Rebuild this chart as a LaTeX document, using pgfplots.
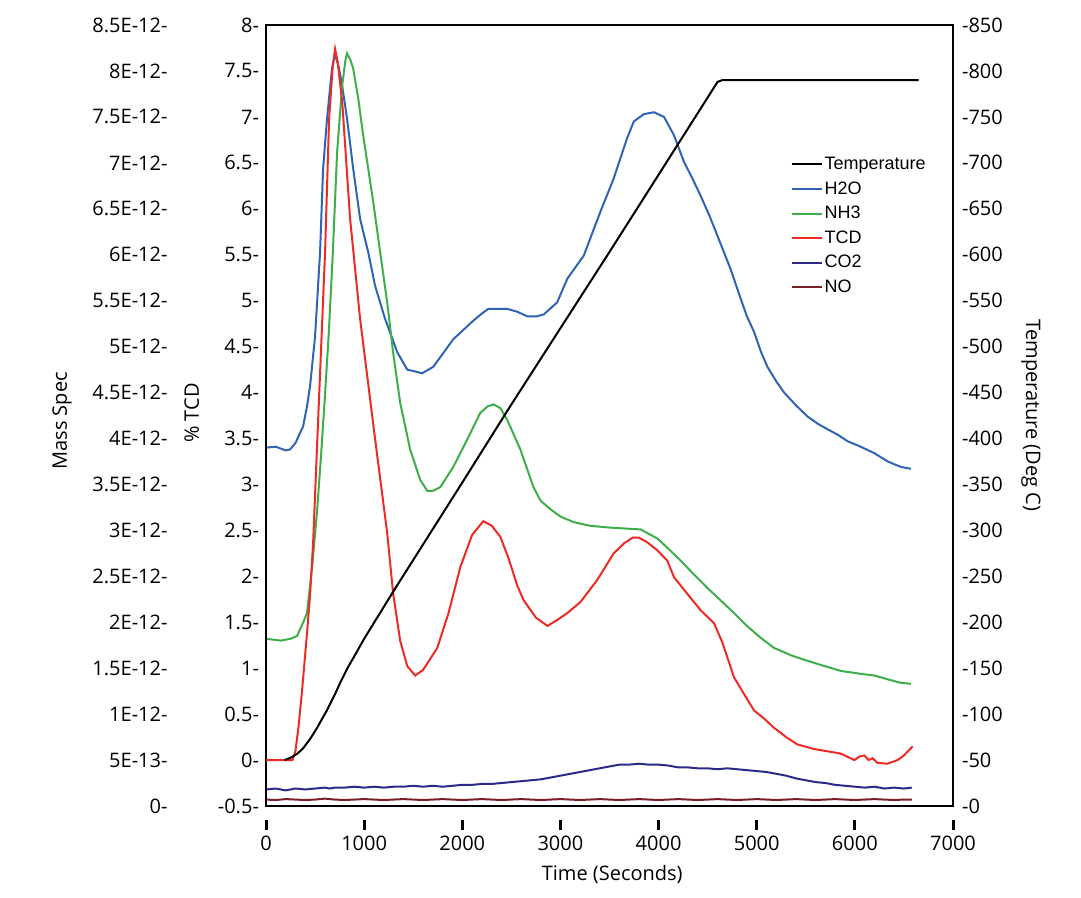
\documentclass[border=0pt]{standalone}
\usepackage{pgfplots}
\pgfplotsset{compat=1.18}
\usepackage{pgfplotstable}
\usepackage{fontspec}
\setmainfont{Open Sans}
\newfontfamily\legendfont{Liberation Sans}
\newcommand\tk[1]{\smash{\makebox[0pt]{\hspace{#1}\rule[10.5pt]{1.5pt}{5pt}}}}
\definecolor{h2oc}{RGB}{47,99,181}
\definecolor{nh3c}{RGB}{61,174,73}
\definecolor{tcdc}{RGB}{238,42,36}
\definecolor{co2c}{RGB}{43,42,138}
\definecolor{noc}{RGB}{122,31,40}

% TCD signal (% TCD)
\pgfplotstableread{
t tcd
0 0
270 0
300 0.10
330 0.35
367 0.75
418 1.38
449 1.80
480 2.36
535 3.80
602 5.53
643 6.98
680 7.55
704 7.74
730 7.60
776 7.17
857 5.89
959 4.80
1112 3.49
1235 2.47
1296 1.81
1367 1.30
1440 1.02
1520 0.92
1600 0.98
1745 1.22
1860 1.60
1980 2.10
2100 2.45
2214 2.60
2300 2.55
2388 2.43
2470 2.20
2560 1.90
2625 1.74
2750 1.55
2868 1.46
2960 1.52
3071 1.60
3204 1.72
3375 1.96
3543 2.25
3650 2.36
3735 2.42
3800 2.42
3885 2.37
3990 2.28
4089 2.17
4157 1.99
4300 1.80
4429 1.63
4565 1.49
4650 1.28
4769 0.90
4870 0.72
4973 0.54
5077 0.45
5177 0.35
5300 0.25
5415 0.17
5585 0.12
5750 0.09
5858 0.07
5994 0.00
6050 0.04
6096 0.05
6140 0.00
6180 0.02
6230 -0.03
6330 -0.04
6436 0.00
6500 0.05
6590 0.15
}\tcddata

% Mass spec signals, in units of 1E-12
\pgfplotstableread{
t ms
0 3.90
100 3.91
200 3.87
245 3.88
300 3.95
347 4.06
378 4.13
418 4.35
449 4.57
500 5.11
551 6.03
582 6.94
622 7.48
673 8.03
704 8.18
740 8.05
776 7.84
826 7.48
888 6.94
959 6.39
1041 6.03
1112 5.66
1214 5.30
1337 4.94
1439 4.75
1592 4.71
1704 4.78
1800 4.92
1908 5.08
2000 5.17
2100 5.27
2200 5.36
2265 5.41
2459 5.41
2558 5.38
2660 5.33
2760 5.33
2830 5.35
2966 5.48
3071 5.74
3238 5.99
3408 6.47
3543 6.83
3680 7.27
3748 7.45
3850 7.53
3953 7.55
4055 7.50
4157 7.30
4259 7.01
4340 6.84
4429 6.64
4520 6.42
4602 6.20
4735 5.84
4837 5.52
4900 5.33
4973 5.16
5041 4.95
5109 4.78
5200 4.62
5279 4.50
5400 4.36
5517 4.24
5622 4.16
5722 4.10
5826 4.04
5926 3.97
6060 3.91
6198 3.84
6334 3.75
6400 3.72
6470 3.69
6571 3.67
}\htwoo

\pgfplotstableread{
t ms
0 1.82
150 1.80
250 1.82
316 1.85
380 2.00
418 2.10
470 2.60
520 3.20
560 3.80
600 4.45
640 5.15
680 6.00
725 7.12
776 7.84
810 8.12
826 8.19
860 8.12
888 8.03
940 7.70
990 7.30
1092 6.58
1163 6.03
1235 5.48
1296 4.93
1367 4.39
1469 3.88
1571 3.55
1643 3.43
1700 3.43
1776 3.47
1908 3.69
2051 3.99
2184 4.28
2260 4.35
2320 4.37
2388 4.33
2459 4.20
2592 3.88
2725 3.47
2800 3.32
2898 3.23
3000 3.15
3133 3.09
3300 3.05
3500 3.03
3817 3.01
3990 2.91
4100 2.80
4225 2.67
4360 2.52
4500 2.37
4640 2.23
4769 2.10
4900 1.96
5041 1.83
5177 1.72
5350 1.64
5517 1.58
5700 1.52
5858 1.47
6050 1.44
6198 1.42
6330 1.38
6470 1.34
6571 1.33
}\nhthree

\pgfplotstableread{
t ms
0 0.18
100 0.19
200 0.17
300 0.19
400 0.18
500 0.19
600 0.20
650 0.19
700 0.20
800 0.20
900 0.21
1000 0.20
1100 0.21
1200 0.20
1300 0.21
1400 0.21
1500 0.22
1600 0.21
1700 0.22
1800 0.21
1900 0.22
2000 0.23
2100 0.23
2200 0.24
2300 0.24
2400 0.25
2500 0.26
2600 0.27
2700 0.28
2800 0.29
2900 0.31
3000 0.33
3100 0.35
3200 0.37
3300 0.39
3400 0.41
3500 0.43
3600 0.45
3700 0.45
3800 0.46
3900 0.45
4000 0.45
4100 0.44
4200 0.42
4300 0.42
4400 0.41
4500 0.41
4600 0.40
4700 0.41
4800 0.40
4900 0.39
5000 0.38
5100 0.37
5200 0.35
5300 0.33
5400 0.30
5500 0.28
5600 0.26
5700 0.25
5800 0.23
5900 0.22
6000 0.21
6100 0.20
6200 0.21
6300 0.19
6400 0.20
6500 0.19
6580 0.20
}\cotwo

\pgfplotstableread{
t ms
0 0.07
100 0.065
200 0.075
300 0.07
400 0.065
500 0.07
600 0.08
700 0.07
800 0.065
900 0.07
1000 0.075
1100 0.07
1200 0.065
1300 0.07
1400 0.075
1500 0.07
1600 0.065
1700 0.07
1800 0.075
1900 0.07
2000 0.065
2100 0.07
2200 0.075
2300 0.07
2400 0.065
2500 0.07
2600 0.075
2700 0.07
2800 0.065
2900 0.07
3000 0.075
3100 0.07
3200 0.065
3300 0.07
3400 0.075
3500 0.07
3600 0.065
3700 0.07
3800 0.075
3900 0.07
4000 0.065
4100 0.07
4200 0.075
4300 0.07
4400 0.065
4500 0.07
4600 0.075
4700 0.07
4800 0.065
4900 0.07
5000 0.075
5100 0.07
5200 0.065
5300 0.07
5400 0.075
5500 0.07
5600 0.065
5700 0.07
5800 0.075
5900 0.07
6000 0.065
6100 0.07
6200 0.075
6300 0.07
6400 0.065
6500 0.07
6580 0.07
}\nodata

% Temperature (Deg C)
\pgfplotstableread{
t temp
190 50
260 53
320 57
380 63
450 73
520 85
620 104
700 121
760 135
830 150
900 163
1000 182
1300 234
2000 352
2500 437
3000 520
3500 603
4000 687
4500 771
4600 788
4650 790
6650 790
}\tempdata

\begin{document}
\begin{tikzpicture}
\useasboundingbox (-133pt,-46pt) rectangle (407.5pt,403pt);
\pgfplotsset{
  base/.style={
    scale only axis, width=343.5pt, height=390.5pt,
    at={(0pt,0pt)}, anchor=south west,
    xmin=0, xmax=7000,
    font=\fontsize{10}{11}\selectfont,
    tick style={draw=none}, major tick length=0pt,
    scaled y ticks=false, scaled x ticks=false,
    axis line style={line width=1pt},
  },
}
% Mass spec axis (left, outer)
\begin{axis}[base,
  axis x line=none, axis y line*=left,
  y axis line style={draw=none},
  ymin=0, ymax=8.5e-12,
  ytick={0,0.5e-12,1e-12,1.5e-12,2e-12,2.5e-12,3e-12,3.5e-12,4e-12,4.5e-12,5e-12,5.5e-12,6e-12,6.5e-12,7e-12,7.5e-12,8e-12,8.5e-12},
  yticklabels={0-,5E-13-,1E-12-,1.5E-12-,2E-12-,2.5E-12-,3E-12-,3.5E-12-,4E-12-,4.5E-12-,5E-12-,5.5E-12-,6E-12-,6.5E-12-,7E-12-,7.5E-12-,8E-12-,8.5E-12-},
  yticklabel style={xshift=-45.7pt},
  ylabel={Mass Spec},
  ylabel style={at={(axis description cs:-0.297,0.493)}, anchor=center},
]
\addplot[noc, line width=1pt] table[x=t, y expr=\thisrow{ms}*1e-12] {\nodata};
\addplot[co2c, line width=1pt] table[x=t, y expr=\thisrow{ms}*1e-12] {\cotwo};
\addplot[h2oc, line width=1pt] table[x=t, y expr=\thisrow{ms}*1e-12] {\htwoo};
\addplot[nh3c, line width=1pt] table[x=t, y expr=\thisrow{ms}*1e-12] {\nhthree};
\end{axis}
% TCD axis (main box)
\begin{axis}[base,
  ymin=-0.5, ymax=8,
  ytick={-0.5,0,0.5,1,1.5,2,2.5,3,3.5,4,4.5,5,5.5,6,6.5,7,7.5,8},
  yticklabels={-0.5-,0-,0.5-,1-,1.5-,2-,2.5-,3-,3.5-,4-,4.5-,5-,5.5-,6-,6.5-,7-,7.5-,8-},
  xtick={0,1000,2000,3000,4000,5000,6000,7000},
  xticklabels={{\tk{5.72pt}0},{\tk{22.88pt}1000},{\tk{22.88pt}2000},{\tk{22.88pt}3000},{\tk{22.88pt}4000},{\tk{22.88pt}5000},{\tk{22.88pt}6000},{\tk{22.88pt}7000}},
  xticklabel style={yshift=-11.7pt},
  xlabel={Time (Seconds)},
  xlabel style={at={(axis description cs:0.504,-0.088)}, anchor=center},
  ylabel={\% TCD},
  ylabel style={at={(axis description cs:-0.108,0.503)}, anchor=center},
]
\addplot[tcdc, line width=1pt] table[x=t, y=tcd] {\tcddata};
\end{axis}
% Temperature axis (right)
\begin{axis}[base,
  axis x line=none, axis y line*=right,
  ymin=0, ymax=850,
  ytick={0,50,100,150,200,250,300,350,400,450,500,550,600,650,700,750,800,850},
  yticklabels={-0,-50,-100,-150,-200,-250,-300,-350,-400,-450,-500,-550,-600,-650,-700,-750,-800,-850},
  yticklabel style={xshift=1pt},
  ylabel={Temperature (Deg C)},
  ylabel style={at={(axis description cs:1.1135,0.50)}, anchor=center, rotate=180},
  legend style={draw=none, fill=none, at={(axis description cs:0.763,0.836)}, anchor=north west,
    font=\legendfont\fontsize{9}{10}\selectfont, inner sep=0pt, row sep=1.3pt,
    nodes={inner sep=1pt, text height=7pt, text depth=2pt}},
  legend cell align=left,
  legend image code/.code={\draw[#1, line width=1pt] (0pt,0pt) -- (15pt,0pt);},
]
\addplot[black, line width=1pt] table[x=t, y=temp] {\tempdata};
\addlegendentry{Temperature}
\addlegendimage{h2oc, line width=1pt}\addlegendentry{H2O}
\addlegendimage{nh3c, line width=1pt}\addlegendentry{NH3}
\addlegendimage{tcdc, line width=1pt}\addlegendentry{TCD}
\addlegendimage{co2c, line width=1pt}\addlegendentry{CO2}
\addlegendimage{noc, line width=1pt}\addlegendentry{NO}
\end{axis}
\end{tikzpicture}
\end{document}
